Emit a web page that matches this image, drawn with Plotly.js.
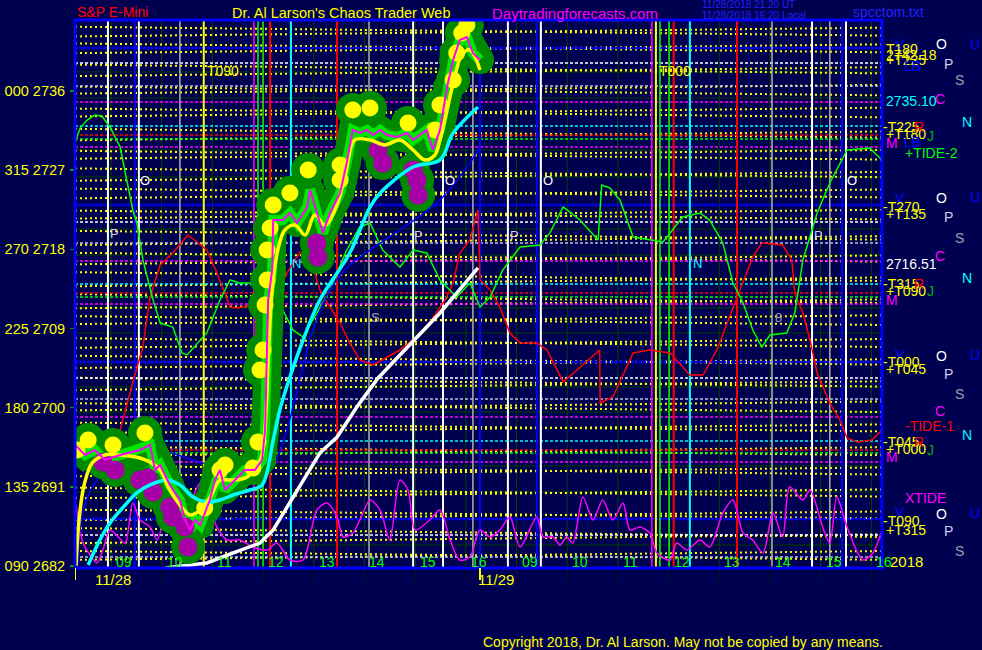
<!DOCTYPE html>
<html><head><meta charset="utf-8">
<script src="https://cdn.plot.ly/plotly-3.0.1.min.js"></script>
<style>html,body{margin:0;padding:0;background:#000050;}#chart{width:982px;height:650px;}</style>
</head><body><div id="chart"></div>
<script>
// ---------- DATA (x = session hour index: 0 = 09:00 11/28 ... 15 = 16:00 11/29; y = price) ----------
const hourTicks = [0,1,2,3,4,5,6,7,8,9,10,11,12,13,14,15];
const hourLabels = ["09","10","11","12","13","14","15","16","09","10","11","12","13","14","15","16"];
const dateLabels = ["11/28","11/29"];
const dateX = [0.04, 7.6];
const yTickVals = [2682,2691,2700,2709,2718,2727,2736];
const yTickText = ["090 2682","135 2691","180 2700","225 2709","270 2718","315 2727","000 2736"];

// price (magenta) path
const priceX = [-0.71,-0.51,-0.32,-0.12,0.18,0.57,0.77,0.87,0.97,1.16,1.36,1.46,1.56,1.66,1.76,1.95,2.05,2.15,2.25,2.45,2.64,2.84,2.98,3.04,3.06,3.10,3.18,3.20,3.39,3.53,3.67,3.87,3.93,4.06,4.18,4.32,4.52,4.65,4.77,4.91,5.05,5.17,5.31,5.44,5.64,5.84,5.96,6.23,6.35,6.49,6.63,6.75,6.88,7.02,7.14,7.28];
const priceY = [2695.76,2694.62,2695.19,2694.05,2694.62,2695.19,2695.76,2692.91,2693.48,2691.21,2689.50,2687.23,2686.09,2687.23,2686.66,2689.50,2691.77,2692.91,2690.64,2691.77,2692.91,2692.91,2694.05,2697.46,2703.14,2712.24,2715.65,2721.33,2721.33,2722.13,2720.99,2722.81,2724.75,2722.13,2719.86,2722.13,2724.40,2727.81,2731.57,2731.22,2731.57,2731.00,2731.57,2731.00,2730.77,2731.22,2730.43,2731.57,2729.29,2731.57,2736.45,2739.52,2741.80,2742.14,2740.32,2739.52];

// smoothed (yellow) price
const smoothX = [-0.69,-0.63,-0.53,-0.37,-0.12,0.18,0.57,0.77,0.97,1.16,1.36,1.56,1.76,1.95,2.15,2.35,2.64,2.84,2.98,3.06,3.10,3.18,3.29,3.43,3.63,3.83,4.02,4.22,4.42,4.62,4.81,5.11,5.40,5.70,5.96,6.19,6.39,6.49,6.63,6.79,6.92,7.08,7.28];
const smoothY = [2682.00,2687.23,2691.21,2693.71,2694.62,2694.62,2694.28,2693.82,2692.91,2690.64,2688.93,2687.80,2688.36,2689.73,2691.77,2691.77,2692.00,2692.91,2694.62,2699.73,2705.42,2713.38,2717.92,2720.20,2720.76,2719.63,2721.90,2720.76,2722.47,2726.45,2730.43,2730.43,2729.86,2730.43,2729.29,2728.16,2728.72,2730.43,2733.84,2737.82,2740.09,2740.66,2738.39];

// swing highs (yellow dots) and lows (purple dots)
const highX = [-0.67,-0.45,0.04,0.67,1.85,2.15,2.25,2.80,2.90,2.94,3.00,3.04,3.08,3.08,3.14,3.20,3.53,3.89,4.52,4.52,4.77,5.11,5.86,6.39,6.49,6.75,6.82,6.92,7.02];
const highY = [2695.19,2696.32,2695.76,2697.12,2688.59,2692.91,2693.48,2693.14,2696.10,2704.28,2706.55,2711.67,2714.51,2717.92,2720.42,2723.04,2724.40,2727.02,2725.88,2727.59,2733.84,2734.07,2732.36,2731.57,2734.41,2737.25,2740.32,2742.59,2743.50];
const lowX = [-0.16,0.08,0.57,0.73,0.83,1.16,1.22,1.46,1.52,4.06,4.08,5.27,5.36,5.96,6.04,6.06];
const lowY = [2693.82,2692.91,2691.77,2692.00,2690.41,2688.71,2687.57,2686.43,2684.16,2718.72,2717.13,2729.29,2727.81,2727.02,2725.88,2724.18];

// cyan average
const cyanX = [-0.45,-0.22,-0.02,0.28,0.51,0.77,1.10,1.36,1.62,1.89,2.15,2.41,2.74,2.98,3.20,3.33,3.53,3.79,4.12,4.71,5.11,5.31,5.96,6.49,6.75,7.24];
const cyanY = [2682.11,2684.95,2686.89,2688.93,2690.30,2691.21,2691.77,2691.21,2689.84,2689.27,2689.50,2690.07,2690.64,2691.21,2696.32,2699.73,2703.48,2707.69,2712.24,2717.58,2722.81,2724.40,2727.36,2728.16,2731.22,2734.18];

// white average
const whiteX = [1.07,1.89,2.41,2.94,3.20,3.59,4.12,4.46,4.85,5.27,6.49,7.24];
const whiteY = [2681.77,2682.34,2683.48,2684.61,2686.09,2689.84,2694.84,2696.66,2700.07,2703.37,2710.76,2715.88];

// blue thin average
const blueX = [-0.65,-0.55,-0.28,0.04,0.71,1.16,1.62,2.29,3.00,3.20,3.47,3.59,3.98,4.32,4.71,5.11,5.70,6.49,7.08,7.28];
const blueY = [2682.11,2688.36,2691.77,2693.71,2694.84,2694.84,2694.05,2692.91,2692.12,2693.25,2697.46,2700.07,2708.83,2713.38,2716.22,2717.92,2720.20,2723.61,2727.81,2729.63];

// -TIDE-1 (red)
const tide1X = [-0.67,-0.41,-0.16,0.18,0.47,0.63,0.77,0.97,1.22,1.52,1.89,2.09,2.35,2.49,2.80,3.27,3.47,3.73,3.93,4.12,4.32,4.52,4.71,4.91,5.17,5.70,6.19,6.59,6.75,6.88,7.08,7.24,7.28,7.48,7.67,7.87,8.07,8.40,8.60,8.92,9.64,9.65,9.90,10.30,10.63,11.03,11.42,11.68,11.95,12.35,12.66,12.84,13.25,13.43,13.49,13.65,13.79,13.93,14.18,14.38,14.52,14.71,15.01,15.21];
const tide1Y = [2696.66,2692.68,2692.57,2697.46,2703.71,2706.89,2712.58,2716.22,2717.58,2719.63,2717.92,2715.31,2711.44,2711.33,2711.67,2712.58,2715.31,2717.70,2717.13,2713.38,2711.44,2709.62,2707.35,2705.42,2704.85,2706.55,2708.83,2712.24,2714.17,2717.58,2719.06,2722.47,2714.51,2713.38,2711.44,2708.49,2707.35,2707.35,2706.55,2702.92,2706.55,2700.53,2701.21,2706.21,2706.55,2706.21,2703.71,2703.71,2706.55,2712.58,2717.13,2718.72,2718.49,2716.79,2713.03,2710.76,2707.69,2703.94,2700.53,2698.60,2696.55,2696.10,2696.32,2697.46];

// +TIDE-2 (green)
const tide2X = [-0.71,-0.61,-0.47,-0.32,-0.18,-0.02,0.18,0.43,0.51,0.63,0.83,0.97,1.22,1.40,1.50,1.89,2.15,2.35,2.54,3.08,3.39,3.59,3.79,4.06,4.32,4.65,4.91,5.11,5.36,5.70,5.96,6.23,6.49,6.82,7.08,7.28,7.48,7.73,8.07,8.46,8.66,8.92,9.25,9.61,9.68,9.84,10.04,10.30,10.89,11.28,11.62,11.81,12.07,12.27,12.47,12.66,12.84,13.00,13.33,13.49,13.65,13.93,14.18,14.52,14.97,15.21];
const tide2Y = [2730.09,2731.79,2732.70,2733.27,2733.16,2731.91,2729.63,2722.47,2720.99,2716.79,2712.24,2709.62,2709.17,2706.21,2705.99,2708.49,2712.24,2714.51,2714.17,2714.17,2711.10,2708.83,2708.03,2710.76,2713.38,2717.92,2720.54,2720.99,2717.92,2715.99,2717.92,2717.58,2714.51,2712.58,2714.17,2711.44,2712.58,2715.65,2718.26,2718.49,2719.86,2722.81,2721.33,2719.06,2725.31,2724.97,2723.61,2719.40,2718.83,2721.67,2722.13,2721.33,2718.72,2714.17,2711.90,2708.83,2706.89,2708.26,2708.49,2710.76,2716.79,2722.13,2725.54,2729.29,2729.52,2728.16];

// XTIDE (magenta, bottom)
const xtideX = [-0.69,-0.55,-0.41,-0.28,-0.16,-0.02,0.14,0.28,0.43,0.57,0.77,0.91,1.10,1.22,1.50,1.76,1.89,2.09,2.29,2.54,2.80,3.08,3.27,3.53,3.79,4.06,4.26,4.46,4.58,4.77,4.91,5.11,5.31,5.50,5.70,5.86,6.00,6.29,6.49,6.69,6.88,7.08,7.28,7.48,7.67,7.87,8.07,8.40,8.52,8.72,8.86,8.99,9.11,9.31,9.51,9.70,9.90,10.10,10.24,10.43,10.63,10.77,11.03,11.16,11.36,11.62,11.81,12.07,12.27,12.47,12.66,12.86,13.06,13.25,13.39,13.65,13.79,14.04,14.18,14.32,14.52,14.83,15.03,15.21];
const xtideY = [2688.93,2684.61,2683.25,2682.34,2683.82,2686.09,2685.30,2684.61,2689.16,2687.23,2686.43,2684.95,2688.36,2686.89,2688.36,2691.43,2689.50,2686.43,2684.95,2684.95,2684.16,2683.82,2684.61,2682.68,2682.68,2688.36,2689.16,2687.57,2685.30,2685.75,2687.23,2689.50,2688.36,2684.95,2691.77,2690.64,2686.09,2687.23,2688.36,2684.95,2682.68,2683.02,2686.09,2685.30,2686.09,2687.57,2684.16,2687.57,2685.30,2685.30,2684.38,2685.30,2684.61,2689.84,2687.23,2689.50,2687.23,2689.16,2686.09,2686.43,2685.75,2683.48,2682.68,2684.61,2683.82,2684.95,2684.16,2688.02,2689.50,2685.75,2684.95,2683.48,2688.02,2685.30,2690.98,2689.50,2690.64,2686.43,2684.61,2689.84,2686.43,2682.68,2683.48,2686.09];

// yellow dotted Gann lines (price at left edge / right edge)
const gannStart = [2743.3,2742.2,2741.4,2740.3,2739.0,2737.7,2736.5,2735.7,2734.0,2733.1,2731.7,2730.4,2729.2,2728.3,2727.2,2725.8,2724.9,2723.8,2722.4,2721.5,2720.1,2718.5,2717.6,2716.3,2715.4,2713.8,2712.9,2711.3,2710.4,2709.5,2707.9,2706.8,2705.9,2704.5,2703.4,2702.0,2700.5,2699.7,2698.3,2697.1,2695.6,2694.5,2693.4,2692.2,2690.9,2689.7,2688.4,2687.2,2686.3,2684.6,2683.7,2682.7];
const gannEnd = [2742.3,2743.2,2740.4,2741.3,2738.0,2738.7,2735.5,2736.7,2733.0,2734.1,2730.7,2731.4,2728.2,2729.3,2726.2,2726.8,2723.9,2724.8,2721.4,2722.5,2719.1,2719.5,2716.6,2717.3,2714.4,2714.8,2711.9,2712.3,2709.4,2710.5,2706.9,2707.8,2704.9,2705.5,2702.4,2703.0,2699.5,2700.7,2697.3,2698.1,2694.6,2695.5,2692.4,2693.2,2689.9,2690.7,2687.4,2688.2,2685.3,2685.6,2682.7,2683.7];

// horizontal level lines by colour
const hBlue = [2740.89,2723.04,2705.19,2687.34];
const hWhite = [2739.18,2721.11,2703.37,2685.52];
const hGray = [2736.57,2718.72,2700.98,2683.02];
const hMagenta = [2734.75,2716.67,2698.94,2729.63,2711.78,2693.82];
const hCyan = [2732.02,2714.06,2696.21];
const hRed = [2731.00,2713.03,2695.19];
const hGreen = [2730.54,2712.58,2694.84];
const hGrid = [2738.16,2735.20,2729.29,2726.22,2720.31,2717.35,2711.33,2708.49,2702.35,2699.51,2693.37,2690.41,2684.38];

// vertical time lines by colour
const vWhite = [-0.06,0.55,5.96,6.55,7.83,8.48,13.83,14.50];
const vGray = [1.36,5.09,7.14,13.04,14.18];
const vBlue = [0.47,7.28,8.40,14.42];
const vYellow = [1.83,10.75];
const vMagenta = [2.82,10.67];
const vGreen = [2.90,3.00,10.83,11.01];
const vRed = [3.14,4.46,11.10,12.35];
const vCyan = [3.55,11.42];
const dayStartX = [-0.71,7.28];

// ---------- BUILD ----------
const X0 = -0.71, X1 = 15.21, Y0 = 2681.77, Y1 = 2744.07;
const FONT = 'Liberation Sans, Arial, sans-serif';
const NAVY = '#000050';
const traces = [];

function segTrace(xs0, ys0, xs1, ys1, line){
  const x=[], y=[];
  for(let i=0;i<xs0.length;i++){ x.push(xs0[i], xs1[i], null); y.push(ys0[i], ys1[i], null); }
  return {x, y, mode:'lines', line, hoverinfo:'skip', connectgaps:false};
}
const L = a => a.map(()=>X0), R = a => a.map(()=>X1);
// dark-green grid
traces.push(segTrace(L(hGrid), hGrid, R(hGrid), hGrid, {color:'#004000', width:1}));
traces.push(segTrace(hourTicks, hourTicks.map(()=>Y0), hourTicks, hourTicks.map(()=>Y1), {color:'#004000', width:1}));
// gann
traces.push(segTrace(L(gannStart), gannStart, R(gannEnd), gannEnd, {color:'#ffff00', width:2, dash:'2px,3px'}));
// horizontal level lines
const hl = (arr,color,dash,w)=>traces.push(segTrace(L(arr), arr, R(arr), arr, {color, width:w||1.5, dash:dash||'3px,2px'}));
hl(hBlue,'#0000ff','3px,1px',2.5); hl(hWhite,'#ffffff'); hl(hGray,'#c0c0e0'); hl(hMagenta,'#ff00ff'); hl(hCyan,'#00ffff'); hl(hRed,'#ff0000'); hl(hGreen,'#00ff00');
// vertical lines
const vl = (arr,color,w)=>traces.push(segTrace(arr, arr.map(()=>Y0), arr, arr.map(()=>Y1), {color, width:w||1.5}));
vl(vGray,'#b0b0b0'); vl(vBlue,'#0000ff',2); vl(vWhite,'#ffffff',2); vl(vYellow,'#ffff00',2); vl(vMagenta,'#ff00ff'); vl(vGreen,'#00ff00'); vl(vRed,'#ff0000',2); vl(vCyan,'#00ffff',2);

// indicator lines
traces.push({x:xtideX, y:xtideY, mode:'lines', line:{color:'#ff00ff', width:1.5, shape:'spline', smoothing:0.8}, hoverinfo:'skip'});
traces.push({x:tide1X, y:tide1Y, mode:'lines', line:{color:'#ff0000', width:1.5}, hoverinfo:'skip'});
traces.push({x:tide2X, y:tide2Y, mode:'lines', line:{color:'#00ff00', width:1.5}, hoverinfo:'skip'});
traces.push({x:blueX, y:blueY, mode:'lines', line:{color:'#0000ff', width:1.5, shape:'spline'}, hoverinfo:'skip'});
traces.push({x:whiteX, y:whiteY, mode:'lines', line:{color:'#ffffff', width:3.5}, hoverinfo:'skip'});

// glow
traces.push({x:priceX, y:priceY, mode:'lines+markers', line:{color:'#008a00', width:28}, marker:{color:'#008a00', size:28}, hoverinfo:'skip'});
traces.push({x:highX.concat(lowX), y:highY.concat(lowY), mode:'markers', marker:{color:'#008a00', size:34}, hoverinfo:'skip'});
traces.push({x:priceX, y:priceY, mode:'lines', line:{color:'#00e600', width:10}, hoverinfo:'skip'});
traces.push({x:highX, y:highY, mode:'markers', marker:{color:'#ffff00', size:17}, hoverinfo:'skip'});
traces.push({x:lowX, y:lowY, mode:'markers', marker:{color:'#a800a8', size:19}, hoverinfo:'skip'});
traces.push({x:cyanX, y:cyanY, mode:'lines', line:{color:'#00ffff', width:3.5, shape:'spline'}, hoverinfo:'skip'});
traces.push({x:smoothX, y:smoothY, mode:'lines', line:{color:'#ffff00', width:3.5, shape:'spline'}, hoverinfo:'skip'});
traces.push({x:priceX, y:priceY, mode:'lines', line:{color:'#ff00ff', width:2}, hoverinfo:'skip'});

// ---------- annotations ----------
const xp = px => (px-75)/807, yp = py => (568-py)/548;
function ann(t, px, py, color, size, anchor){
  return {text:t, xref:'paper', yref:'paper', x:xp(px), y:yp(py), xanchor:anchor||'left', yanchor:'middle', showarrow:false, font:{family:FONT, size:size||14, color}};
}
const Y='#ffff00', W='#ffffff', B='#0000ff', M='#ff00ff', C='#00ffff', Rd='#ff0000', G='#00ff00', LG='#d0d0e8', GR='#a0a0b0', DG='#00b000';
const anns = [
  ann('S&P E-Mini',75,12,Rd,14), ann("Dr. Al Larson's Chaos Trader Web",230,13,Y,14.5), ann('Daytradingforecasts.com',490,13,M,15),
  ann('11/28/2018 21:20 UT',700,5,'#2020ff',10), ann('11/28/2018 16:20 Local',700,15,'#2020ff',10), ann('spcctom.txt',851,12,'#2020ff',14),
  ann('Copyright 2018, Dr. Al Larson. May not be copied by any means.',481,642,Y,14),
  ann('T090',205,71,Y,14), ann('T000',657,71,Y,14),
  ann('O',145,180,W,13,'center'), ann('P',114,233,LG,13,'center'), ann('O',450,180,W,13,'center'), ann('P',418,235,LG,13,'center'),
  ann('O',548,180,W,13,'center'), ann('P',514,235,LG,13,'center'), ann('O',852,180,W,13,'center'), ann('P',818,235,LG,13,'center'),
  ann('N',296,263,C,13,'center'), ann('N',697,263,C,13,'center'), ann('S',375,317,GR,13,'center'), ann('8',778,318,GR,13,'center'),
  // right side
  ann('V',893,44,B), ann('T180',884,49,Y), ann('2742.18',884,55,Y), ann('+T225',884,60,Y), ann('LB',902,66,B),
  ann('O',934,44,W), ann('U',968,44,B), ann('P',942,64,LG), ann('S',953,80,GR), ann('C',933,99,M), ann('2735.10',884,101,C), ann('N',960,122,C),
  ann('-T225',881,127,Y), ann('+T180',884,134,Y), ann('R',912,127,Rd), ann('J',925,136,DG), ann('M',884,143,M), ann('LB',902,142,B), ann('+TIDE-2',903,153,G),
  ann('V',893,198,B), ann('-T270',881,207,Y), ann('+T135',884,214,Y), ann('O',934,198,W), ann('U',968,197,B), ann('P',942,217,LG), ann('S',953,238,GR), ann('C',933,256,M),
  ann('2716.51',884,264,W), ann('N',960,278,C), ann('-T315',881,284,Y), ann('+T090',884,291,Y), ann('R',912,284,Rd), ann('J',925,291,DG), ann('M',884,300,M),
  ann('V',893,354,B), ann('-T000',881,362,Y), ann('+T045',884,369,Y), ann('O',934,356,W), ann('U',968,355,B), ann('P',942,374,LG), ann('S',953,394,GR), ann('C',933,411,M),
  ann('-TIDE-1',903,426,Rd), ann('N',960,435,C), ann('-T045',881,442,Y), ann('+T000',884,449,Y), ann('R',912,442,Rd), ann('J',925,450,DG), ann('M',884,457,M),
  ann('XTIDE',903,498,M), ann('V',893,512,B), ann('-T090',881,521,Y), ann('+T315',884,530,Y), ann('O',934,514,W), ann('U',968,513,B), ann('P',942,531,LG), ann('S',953,551,GR),
  ann('2018',888,561,Y,15)
];
hourLabels.forEach((t,i)=>anns.push({text:t, xref:'x', yref:'paper', x:hourTicks[i], y:yp(562), xanchor:'left', xshift:3, yanchor:'middle', showarrow:false, font:{family:FONT,size:14,color:'#00ff00'}}));
dateLabels.forEach((t,i)=>anns.push({text:t, xref:'x', yref:'paper', x:dateX[i], y:yp(579), xanchor:'center', yanchor:'middle', showarrow:false, font:{family:FONT,size:15,color:Y}}));

const shapes = [
  {type:'rect', xref:'paper', yref:'paper', x0:0, x1:1, y0:0, y1:1, line:{color:'#0000ff', width:3}, fillcolor:'rgba(0,0,0,0)', layer:'above'}
];
dayStartX.forEach(x=>shapes.push({type:'line', xref:'x', yref:'paper', x0:x, x1:x, y0:0, y1:-12/548, line:{color:'#ffff00', width:2}}));

const layout = {
  width:982, height:650, margin:{l:75, r:100, t:20, b:82, pad:0},
  paper_bgcolor:NAVY, plot_bgcolor:NAVY, showlegend:false, hovermode:false,
  xaxis:{range:[X0,X1], showgrid:false, zeroline:false, showline:false, tickvals:hourTicks, ticktext:hourTicks.map(()=>''), ticks:'outside', ticklen:12, tickwidth:1, tickcolor:'#101010', fixedrange:true},
  yaxis:{range:[Y0,Y1], showgrid:false, zeroline:false, showline:false, tickvals:yTickVals, ticktext:yTickText, ticks:'outside', ticklen:4, tickwidth:1.5, tickcolor:'#00a000', ticklabelstandoff:2, tickfont:{family:FONT, size:14.5, color:'#ffff00'}, fixedrange:true},
  annotations:anns, shapes
};
Plotly.newPlot('chart', traces, layout, {displayModeBar:false, staticPlot:true});
</script></body></html>
